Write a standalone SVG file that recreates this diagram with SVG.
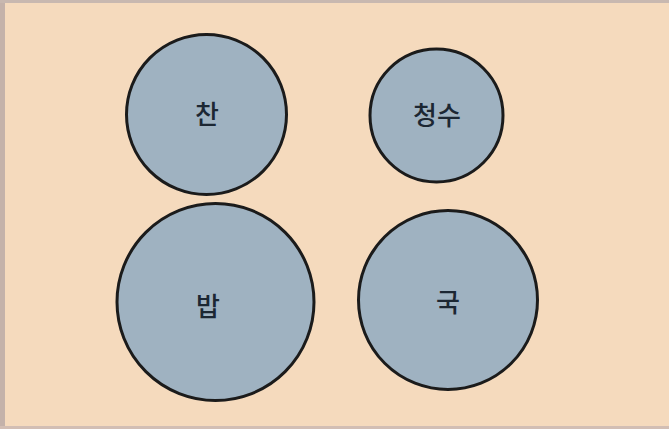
<svg xmlns="http://www.w3.org/2000/svg" width="669" height="429" viewBox="0 0 669 429">
<style>
.n{fill:#9fb2c1;stroke:#1b1b1b;stroke-width:3}
.t{font-family:"Noto Sans CJK KR","Noto Sans",sans-serif;font-size:26px;font-weight:500;fill:#1c2733;text-anchor:middle;dominant-baseline:central}
</style>
<rect x="0" y="0" width="669" height="429" fill="#f5dabd"/>
<rect x="0" y="0" width="5" height="429" fill="#c4b2aa"/>
<rect x="0" y="0" width="669" height="3" fill="#c8b8b0"/>
<rect x="0" y="426" width="669" height="3" fill="#d2beb4"/>
<g id="chan"><circle class="n" cx="206.5" cy="114.5" r="80"/><text class="t" x="207" y="112">찬</text></g>
<g id="cheongsu"><circle class="n" cx="436.5" cy="115.5" r="66.5"/><text class="t" x="437" y="113">청수</text></g>
<g id="bap"><circle class="n" cx="215.5" cy="302" r="98.5"/><text class="t" x="208" y="304">밥</text></g>
<g id="guk"><circle class="n" cx="448" cy="300" r="89.5"/><text class="t" x="448" y="300">국</text></g>
<g id="connectors"></g>
</svg>
